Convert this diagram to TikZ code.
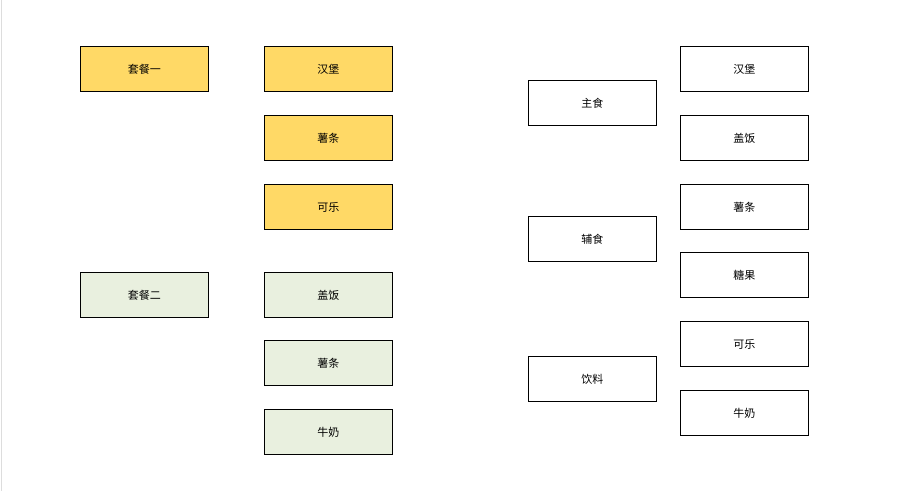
\documentclass[tikz,border=0pt]{standalone}
\usepackage{fontspec}
\newfontfamily\cjk{Noto Sans CJK SC}
\definecolor{yel}{HTML}{FFD966}
\definecolor{grn}{HTML}{E9F0DF}
\definecolor{edge}{HTML}{DDDDDD}
\begin{document}
\begin{tikzpicture}[x=1pt,y=-1pt,
  box/.style={draw=black,line width=0.8pt,minimum width=128pt,minimum height=45pt,inner sep=0pt,font=\cjk\fontsize{11pt}{13pt}\selectfont,anchor=north west},
  ybox/.style={box,fill=yel},
  gbox/.style={box,fill=grn},
  wbox/.style={box,fill=white}]
\useasboundingbox (0,0) rectangle (902,491);
\fill[white] (0,0) rectangle (902,491);
\draw[edge,line width=1pt] (1.5,0) -- (1.5,491);
\node[ybox] (t1) at (80,46) {套餐一};
\node[ybox] (a1) at (264,46) {汉堡};
\node[ybox] (a2) at (264,115) {薯条};
\node[ybox] (a3) at (264,184) {可乐};
\node[gbox] (t2) at (80,272) {套餐二};
\node[gbox] (b1) at (264,272) {盖饭};
\node[gbox] (b2) at (264,340) {薯条};
\node[gbox] (b3) at (264,409) {牛奶};
\node[wbox] (c1) at (528,80) {主食};
\node[wbox] (c2) at (528,216) {辅食};
\node[wbox] (c3) at (528,356) {饮料};
\node[wbox] (d1) at (680,46) {汉堡};
\node[wbox] (d2) at (680,115) {盖饭};
\node[wbox] (d3) at (680,184) {薯条};
\node[wbox] (d4) at (680,252) {糖果};
\node[wbox] (d5) at (680,321) {可乐};
\node[wbox] (d6) at (680,390) {牛奶};
\end{tikzpicture}
\end{document}
